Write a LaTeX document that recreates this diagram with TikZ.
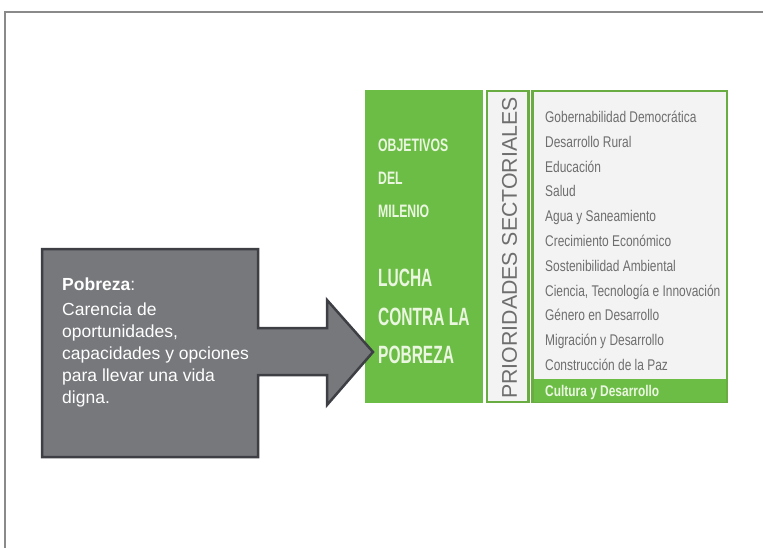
\documentclass[tikz,border=0pt]{standalone}
\usepackage{fontspec}
\setmainfont{Liberation Sans}
\definecolor{grn}{HTML}{6CBD45}
\definecolor{grnb}{HTML}{68AC42}
\definecolor{grnt}{HTML}{EAF6E0}
\definecolor{boxg}{HTML}{77787C}
\definecolor{boxb}{HTML}{3E3F44}
\definecolor{listbg}{HTML}{F3F3F3}
\definecolor{listtx}{HTML}{6E6E6E}
\definecolor{frame}{HTML}{8A8A8A}
\tikzset{
  bigtx/.style={anchor=base west, inner sep=0pt, text=grnt, font=\fontsize{25}{25}\selectfont\bfseries},
  smtx/.style={anchor=base west, inner sep=0pt, text=grnt, font=\fontsize{18}{18}\selectfont\bfseries},
  item/.style={anchor=base west, inner sep=0pt, text=listtx, font=\fontsize{15.5}{15.5}\selectfont},
  deftx/.style={anchor=base west, inner sep=0pt, text=white, font=\fontsize{17.5}{17.5}\selectfont},
}
\newcommand{\cnd}[2]{\scalebox{#1}[1]{#2}}
\begin{document}
\begin{tikzpicture}[x=1pt,y=-1pt]
\useasboundingbox (0,0) rectangle (763,548);
% page frame
\draw[frame, line width=1.2pt] (5,548) -- (5,12) -- (763,12);
% green panel
\fill[grn] (365,90) rectangle (483,403);
\node[smtx] (obj) at (378,151.5) {\cnd{0.68}{OBJETIVOS}};
\node[smtx] (del) at (378,184.5) {\cnd{0.68}{DEL}};
\node[smtx] (mil) at (378,217.5) {\cnd{0.68}{MILENIO}};
\node[bigtx] (lucha) at (378,286) {\cnd{0.62}{LUCHA}};
\node[bigtx] (contra) at (378,325) {\cnd{0.62}{CONTRA LA}};
\node[bigtx] (pobreza) at (378,363) {\cnd{0.62}{POBREZA}};
% prioridades box
\draw[grnb, line width=2.5pt, fill=listbg] (487,91.25) rectangle (528.5,401.75);
\node[rotate=90, text=listtx, font=\fontsize{21.3}{21.3}\selectfont, inner sep=0pt] (prio) at (509.5,248) {PRIORIDADES SECTORIALES};
% list box
\draw[grnb, line width=2.5pt, fill=listbg] (532.5,91.25) rectangle (727,401.75);
\fill[grn] (533.75,379) rectangle (725.75,401.75);
\node[item] (i1) at (545,122.5) {\cnd{0.77}{Gobernabilidad Democrática}};
\node[item] (i2) at (545,147.3) {\cnd{0.77}{Desarrollo Rural}};
\node[item] (i3) at (545,172.1) {\cnd{0.77}{Educación}};
\node[item] (i4) at (545,196.9) {\cnd{0.77}{Salud}};
\node[item] (i5) at (545,221.7) {\cnd{0.77}{Agua y Saneamiento}};
\node[item] (i6) at (545,246.5) {\cnd{0.77}{Crecimiento Económico}};
\node[item] (i7) at (545,271.3) {\cnd{0.77}{Sostenibilidad Ambiental}};
\node[item] (i8) at (545,296.1) {\cnd{0.77}{Ciencia, Tecnología e Innovación}};
\node[item] (i9) at (545,320.9) {\cnd{0.77}{Género en Desarrollo}};
\node[item] (i10) at (545,345.7) {\cnd{0.77}{Migración y Desarrollo}};
\node[item] (i11) at (545,370.5) {\cnd{0.77}{Construcción de la Paz}};
\node[item, text=grnt] (i12) at (545,396.5) {\cnd{0.77}{\bfseries Cultura y Desarrollo}};
% definition box with arrow
\draw[boxb, line width=2.5pt, fill=boxg, line join=miter]
  (42,249) -- (258,249) -- (258,328) -- (327,328) -- (327,300) -- (373,352)
  -- (327,405) -- (327,375) -- (258,375) -- (258,457) -- (42,457) -- cycle;
\node[deftx] (pt) at (62,290) {\textbf{Pobreza}:};
\node[deftx] (l1) at (62,315) {Carencia de};
\node[deftx] (l2) at (62,337) {oportunidades,};
\node[deftx] (l3) at (62,359) {capacidades y opciones};
\node[deftx] (l4) at (62,381) {para llevar una vida};
\node[deftx] (l5) at (62,403) {digna.};
\end{tikzpicture}
\end{document}
